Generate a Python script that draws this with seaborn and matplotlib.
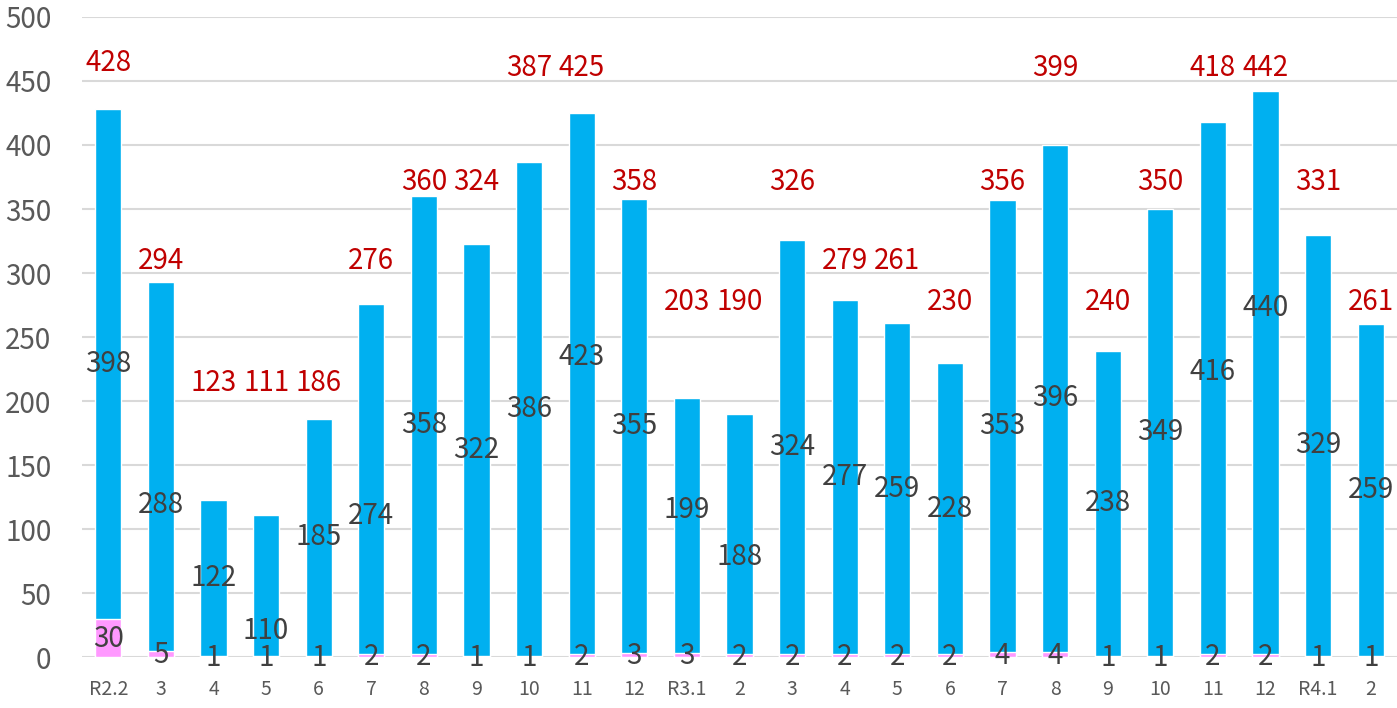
import numpy as np
import pandas as pd
import matplotlib
matplotlib.use("Agg")
import matplotlib.pyplot as plt
import seaborn as sns

# month labels (R = Reiwa year)
months = ["R2.2", "3", "4", "5", "6", "7", "8", "9", "10", "11", "12",
          "R3.1", "2", "3", "4", "5", "6", "7", "8", "9", "10", "11", "12",
          "R4.1", "2"]
pink_vals = [30, 5, 1, 1, 1, 2, 2, 1, 1, 2, 3, 3, 2, 2, 2, 2, 2, 4, 4, 1, 1, 2, 2, 1, 1]
blue_vals = [398, 288, 122, 110, 185, 274, 358, 322, 386, 423, 355, 199, 188,
             324, 277, 259, 228, 353, 396, 238, 349, 416, 440, 329, 259]
totals = [428, 294, 123, 111, 186, 276, 360, 324, 387, 425, 358, 203, 190,
          326, 279, 261, 230, 356, 399, 240, 350, 418, 442, 331, 261]

# where the red total labels sit (data units) - they were placed by hand in the original
total_label_at = [464, 309, 214, 214, 214, 309, 371, 371, 460, 460, 371, 277, 277,
                  371, 309, 309, 277, 371, 460, 277, 371, 460, 460, 371, 277]
# inner labels that were dragged away from the segment centre
inner_label_moved = {1: 119, 3: 20, 5: 110, 9: 234, 11: 115, 12: 78, 21: 223, 22: 273}

df = pd.DataFrame({
    "idx": range(len(months)),
    "pink": pink_vals,
    "blue": blue_vals,
})
df["stack"] = df["pink"] + df["blue"]

sns.set_style("white")
plt.rcParams["font.family"] = ["Noto Sans CJK JP", "DejaVu Sans"]

fig = plt.figure(figsize=(13.97, 7.08), dpi=100)
ax = fig.add_axes([0.0587, 0.072, 0.9413, 0.904])

BLUE = "#00B0F0"
PINK = "#FF99FF"

sns.barplot(data=df, x="idx", y="stack", color=BLUE, width=0.5,
            saturation=1, ax=ax, zorder=2)
sns.barplot(data=df, x="idx", y="pink", color=PINK, width=0.5,
            saturation=1, ax=ax, zorder=3)

ax.set_ylim(0, 500)
ax.set_xlim(-0.5, len(months) - 0.5)
ax.set_yticks(np.arange(0, 501, 50))
ax.yaxis.grid(True, color="#D9D9D9", linewidth=1.5, zorder=0)
ax.set_axisbelow(True)
for s in ax.spines.values():
    s.set_visible(False)

ax.set_xticks(range(len(months)))
ax.set_xticklabels(months)
ax.tick_params(axis="x", labelsize=14, colors="#595959", length=0, pad=16)
ax.tick_params(axis="y", labelsize=20, colors="#595959", length=0, pad=22)
ax.set_xlabel("")
ax.set_ylabel("")

for i in range(len(months)):
    p = pink_vals[i]
    b = blue_vals[i]
    # pink value
    ax.text(i, p / 2 - 1, str(p), ha="center", va="center",
            fontsize=20, color="#404040", zorder=5)
    # blue value
    y_in = inner_label_moved.get(i, p + b / 2)
    ax.text(i, y_in, str(b), ha="center", va="center",
            fontsize=20, color="#404040", zorder=5)
    # total
    ax.text(i, total_label_at[i], str(totals[i]), ha="center", va="center",
            fontsize=20, color="#C00000", zorder=5)

fig.savefig("out.png", dpi=100)
